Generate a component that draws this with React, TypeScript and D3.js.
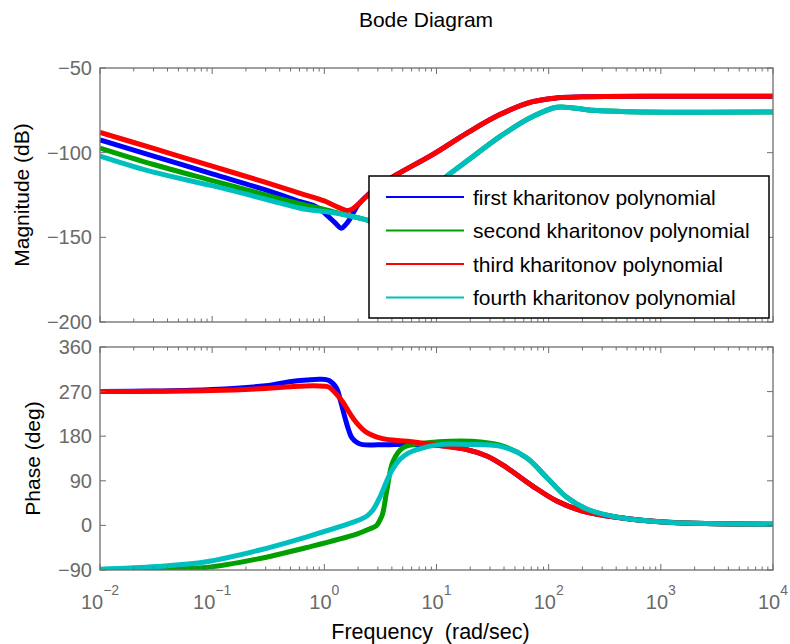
import React from 'react';
import * as d3 from 'd3';

// ---------- data ----------
const seriesNames = [
  'first kharitonov polynomial',
  'second kharitonov polynomial',
  'third kharitonov polynomial',
  'fourth kharitonov polynomial',
];
const seriesColors = ['#0000ff', '#00a000', '#ff0000', '#00bfbf'];

// Magnitude (dB)
const magFreqFirst = [0.01, 0.03, 0.1, 0.3, 0.61, 0.85, 1.05, 1.25, 1.42, 1.55, 1.67, 1.85, 2.0, 2.44, 3, 4.4, 9.3, 18.5, 36.7, 72, 120, 200, 1000, 10000];
const magFirst = [-92.5, -102, -112.5, -122, -128.9, -132, -136.8, -141.5, -144.6, -142.5, -139.7, -134.5, -130.8, -125, -120, -113, -101, -88.6, -77.5, -69.9, -67.6, -67, -66.7, -66.7];

const magFreqThird = [0.01, 0.03, 0.1, 0.3, 0.61, 1.0, 1.3, 1.62, 1.8, 2.0, 2.44, 3, 4.4, 9.3, 18.5, 36.7, 72, 120, 200, 1000, 10000];
const magThird = [-88, -97.5, -108, -117.5, -124, -128.5, -132, -134.2, -133, -130.5, -125, -120, -113, -101, -88.6, -77.5, -69.9, -67.6, -67, -66.7, -66.7];

const magFreqSecond = [0.01, 0.03, 0.1, 0.3, 0.61, 1.0, 1.3, 2.37, 3, 3.7, 4.5, 5.5, 7, 9, 12.3, 20, 36.7, 72, 118, 160, 250, 500, 10000];
const magSecond = [-97.3, -107, -116.5, -125, -130.3, -133.5, -135.5, -139.7, -142, -142.3, -140, -135.5, -129, -122, -114, -103.5, -90.5, -78.7, -73.2, -73.5, -75, -75.8, -76];

const magFreqFourth = [0.01, 0.03, 0.1, 0.3, 0.61, 1.0, 1.3, 2.37, 3, 3.7, 4.5, 5.5, 7, 9, 12.3, 20, 36.7, 72, 118, 160, 250, 500, 10000];
const magFourth = [-102, -111.5, -119.5, -127.5, -132.8, -134.8, -135.8, -139.7, -142, -142.3, -140, -135.5, -129, -122, -114, -103.5, -90.5, -78.7, -73.2, -73.5, -75, -75.8, -76];

// Phase (deg)
const phFreqFirst = [0.01, 0.03, 0.1, 0.3, 0.49, 0.7, 0.92, 1.1, 1.28, 1.4, 1.53, 1.65, 1.76, 2.0, 2.2, 3, 5.5, 10.6, 18.6, 28.4, 42, 72, 118, 200, 400, 1140, 10000];
const phFirst = [270, 271, 274, 282, 290, 293.5, 295, 292.5, 277.6, 250, 217, 192, 177, 166, 163, 162.5, 163.5, 161, 153, 139.6, 117, 79.4, 49.2, 29.1, 16.4, 6.4, 2.4];

const phFreqThird = [0.01, 0.03, 0.1, 0.3, 0.5, 0.8, 1.0, 1.1, 1.28, 1.45, 1.7, 1.94, 2.4, 3.3, 5.5, 10.6, 18.6, 28.4, 42, 72, 118, 200, 400, 1140, 10000];
const phThird = [270, 270.5, 272, 276.5, 280, 282, 281, 279, 265, 250, 225, 207, 187, 175, 169.8, 161, 153, 139.6, 117, 79.4, 49.2, 29.1, 16.4, 6.4, 2.4];

const phFreqSecond = [0.01, 0.03, 0.089, 0.25, 0.7, 1.94, 2.6, 2.9, 3.1, 3.3, 3.6, 4.1, 5.0, 6.7, 13.1, 20, 36.7, 63, 96, 145, 220, 400, 1140, 10000];
const phSecond = [-90.5, -88.5, -84.7, -68, -44.5, -17.7, -6, -1, 9, 22.5, 69.3, 129.6, 156.5, 164.5, 170, 170, 162, 137, 96.8, 56.6, 32.5, 17, 6.4, 2.4];

const phFreqFourth = [0.01, 0.032, 0.089, 0.25, 0.7, 1.94, 2.4, 2.7, 3.1, 3.6, 4.1, 4.7, 5.5, 6.7, 10.6, 18.5, 36.7, 63, 96, 145, 220, 400, 1140, 10000];
const phFourth = [-88.5, -83, -73.3, -51.2, -23, 9, 19, 30.5, 55, 89.4, 115, 133, 145, 153, 163, 163.5, 160, 137, 96.8, 56.6, 32.5, 17, 6.4, 2.4];

const magTicks = [-200, -150, -100, -50];
const phaseTicks = [-90, 0, 90, 180, 270, 360];
const freqExponents = [-2, -1, 0, 1, 2, 3, 4];

// ---------- layout ----------
const W = 790;
const H = 644;
const X0 = 100;
const X1 = 773;
const MAG_TOP = 68;
const MAG_BOT = 322;
const PH_TOP = 347;
const PH_BOT = 570;
const AXIS_COLOR = '#6e6e6e';
const TICK_TEXT = '#6a6a6a';
const FONT = 'Liberation Sans, Arial, Helvetica, sans-serif';

const magSeries = [
  { f: magFreqFirst, v: magFirst, c: 0 },
  { f: magFreqSecond, v: magSecond, c: 1 },
  { f: magFreqThird, v: magThird, c: 2 },
  { f: magFreqFourth, v: magFourth, c: 3 },
];
const phSeries = [
  { f: phFreqFirst, v: phFirst, c: 0 },
  { f: phFreqSecond, v: phSecond, c: 1 },
  { f: phFreqThird, v: phThird, c: 2 },
  { f: phFreqFourth, v: phFourth, c: 3 },
];

function minorTicks(): number[] {
  const out: number[] = [];
  for (let e = -2; e < 4; e++) {
    for (let k = 2; k <= 9; k++) out.push(k * Math.pow(10, e));
  }
  return out;
}

function fmtMinus(v: number) {
  return v < 0 ? '\u2212' + Math.abs(v) : String(v);
}

export default function App() {
  const x = d3.scaleLog().domain([1e-2, 1e4]).range([X0, X1]);
  const yMag = d3.scaleLinear().domain([-200, -50]).range([MAG_BOT, MAG_TOP]);
  const yPh = d3.scaleLinear().domain([-90, 360]).range([PH_BOT, PH_TOP]);
  const minors = minorTicks();

  const mkLine = (y: d3.ScaleLinear<number, number>) =>
    d3
      .line<[number, number]>()
      .x((d) => x(d[0]))
      .y((d) => y(d[1]))
      .curve(d3.curveCatmullRom.alpha(0.5));

  const magLine = mkLine(yMag);
  const phLine = mkLine(yPh);

  const axesFrame = (top: number, bot: number, y: d3.ScaleLinear<number, number>, yTicks: number[], key: string) => (
    <g key={key}>
      {minors.map((m, i) => (
        <g key={'mn' + i}>
          <line x1={x(m)} x2={x(m)} y1={bot} y2={bot - 3.5} stroke={AXIS_COLOR} strokeWidth={1} />
          <line x1={x(m)} x2={x(m)} y1={top} y2={top + 3.5} stroke={AXIS_COLOR} strokeWidth={1} />
        </g>
      ))}
      {freqExponents.map((e) => (
        <g key={'mj' + e}>
          <line x1={x(Math.pow(10, e))} x2={x(Math.pow(10, e))} y1={bot} y2={bot - 6} stroke={AXIS_COLOR} strokeWidth={1} />
          <line x1={x(Math.pow(10, e))} x2={x(Math.pow(10, e))} y1={top} y2={top + 6} stroke={AXIS_COLOR} strokeWidth={1} />
        </g>
      ))}
      {yTicks.map((t) => (
        <g key={'yt' + t}>
          <line x1={X0} x2={X0 + 6} y1={y(t)} y2={y(t)} stroke={AXIS_COLOR} strokeWidth={1} />
          <line x1={X1} x2={X1 - 6} y1={y(t)} y2={y(t)} stroke={AXIS_COLOR} strokeWidth={1} />
          <text x={X0 - 8} y={y(t) + 7} textAnchor="end" fontSize={20} fill={TICK_TEXT} fontFamily={FONT}>
            {fmtMinus(t)}
          </text>
        </g>
      ))}
      <rect x={X0} y={top} width={X1 - X0} height={bot - top} fill="none" stroke={AXIS_COLOR} strokeWidth={1.3} />
    </g>
  );

  return (
    <svg width={W} height={H} style={{ position: 'absolute', left: 0, top: 0, background: '#fff' }} fontFamily={FONT}>
      <defs>
        <clipPath id="clipMag">
          <rect x={X0} y={MAG_TOP} width={X1 - X0} height={MAG_BOT - MAG_TOP} />
        </clipPath>
        <clipPath id="clipPh">
          <rect x={X0} y={PH_TOP} width={X1 - X0} height={PH_BOT - PH_TOP} />
        </clipPath>
      </defs>
      <rect x={0} y={0} width={W} height={H} fill="#fff" />

      <text x={426} y={26.5} textAnchor="middle" fontSize={21} fill="#000">Bode Diagram</text>

      {/* magnitude axes */}
      <g clipPath="url(#clipMag)">
        {magSeries.map((s) => (
          <path
            key={'m' + s.c}
            d={magLine(s.f.map((f, i) => [f, s.v[i]] as [number, number])) || ''}
            fill="none"
            stroke={seriesColors[s.c]}
            strokeWidth={5}
            strokeLinejoin="round"
          />
        ))}
      </g>
      {axesFrame(MAG_TOP, MAG_BOT, yMag, magTicks, 'magAx')}

      {/* phase axes */}
      <g clipPath="url(#clipPh)">
        {phSeries.map((s) => (
          <path
            key={'p' + s.c}
            d={phLine(s.f.map((f, i) => [f, s.v[i]] as [number, number])) || ''}
            fill="none"
            stroke={seriesColors[s.c]}
            strokeWidth={5}
            strokeLinejoin="round"
          />
        ))}
      </g>
      {axesFrame(PH_TOP, PH_BOT, yPh, phaseTicks, 'phAx')}

      {/* x tick labels */}
      {freqExponents.map((e) => (
        <text key={'xl' + e} x={x(Math.pow(10, e))} y={609} textAnchor="middle" fill={TICK_TEXT} fontSize={20}>
          <tspan>10</tspan>
          <tspan dy={-14} fontSize={14}>{fmtMinus(e)}</tspan>
        </text>
      ))}

      {/* axis labels */}
      <text x={430.5} y={638.5} textAnchor="middle" fontSize={21.5} fill="#000" style={{ whiteSpace: 'pre' }}>
        {'Frequency  (rad/sec)'}
      </text>
      <text transform={`translate(29,${(MAG_TOP + MAG_BOT) / 2}) rotate(-90)`} textAnchor="middle" fontSize={21} fill="#000">
        Magnitude (dB)
      </text>
      <text transform={`translate(40,${(PH_TOP + PH_BOT) / 2}) rotate(-90)`} textAnchor="middle" fontSize={21} fill="#000">
        Phase (deg)
      </text>

      {/* legend */}
      <g>
        <rect x={369} y={176} width={400} height={142} fill="#fff" stroke="#000" strokeWidth={1.5} />
        {seriesNames.map((n, i) => {
          const cy = 197 + i * 33.5;
          return (
            <g key={'lg' + i}>
              <line x1={386} x2={464} y1={cy} y2={cy} stroke={seriesColors[i]} strokeWidth={2} />
              <text x={473} y={cy + 7.5} fontSize={21} fill="#000">{n}</text>
            </g>
          );
        })}
      </g>
    </svg>
  );
}
